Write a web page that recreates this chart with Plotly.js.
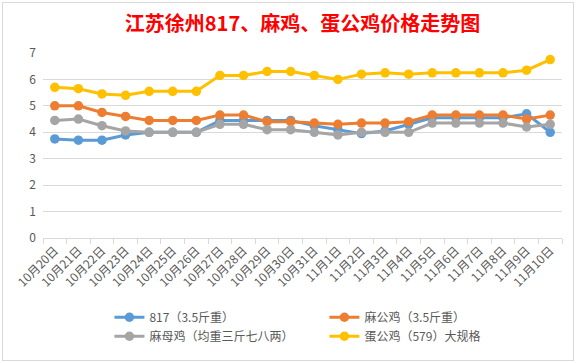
<!DOCTYPE html>
<html>
<head>
<meta charset="utf-8">
<script src="https://cdn.plot.ly/plotly-3.0.1.min.js"></script>
<style>
  html, body { margin: 0; padding: 0; background: #ffffff; }
  #wrap { position: relative; width: 580px; height: 363px; overflow: hidden; background: #ffffff; }
  #frame { position: absolute; left: 2px; top: 2px; width: 570px; height: 357px; border: 1px solid #d9d9d9; box-sizing: content-box; }
  #chart { position: absolute; left: 0; top: 0; width: 580px; height: 363px; }
</style>
</head>
<body>
<div id="wrap">
  <div id="frame"></div>
  <div id="chart"></div>
</div>
<script>
const categories = ["10月20日","10月21日","10月22日","10月23日","10月24日","10月25日","10月26日","10月27日","10月28日","10月29日","10月30日","10月31日","11月1日","11月2日","11月3日","11月4日","11月5日","11月6日","11月7日","11月8日","11月9日","11月10日"];
const seriesNames = ["817（3.5斤重）","麻公鸡（3.5斤重）","麻母鸡（均重三斤七八两）","蛋公鸡（579）大规格"];
const s817   = [3.75,3.7,3.7,3.9,4.0,4.0,4.0,4.45,4.45,4.45,4.45,4.25,4.1,3.95,4.05,4.3,4.55,4.55,4.55,4.55,4.7,4.0];
const maGong = [5.0,5.0,4.75,4.6,4.45,4.45,4.45,4.65,4.65,4.4,4.4,4.35,4.3,4.35,4.35,4.4,4.65,4.65,4.65,4.65,4.5,4.65];
const maMu   = [4.45,4.5,4.25,4.05,4.0,4.0,4.0,4.3,4.3,4.1,4.1,4.0,3.9,4.0,4.0,4.0,4.35,4.35,4.35,4.35,4.2,4.3];
const danGong= [5.7,5.65,5.45,5.4,5.55,5.55,5.55,6.15,6.15,6.3,6.3,6.15,6.0,6.2,6.25,6.2,6.25,6.25,6.25,6.25,6.35,6.75];
const colors = ["#5B9BD5","#ED7D31","#A5A5A5","#FFC000"];

const seriesData = [s817, maGong, maMu, danGong];
const font = "'Noto Sans CJK SC', 'Microsoft YaHei', sans-serif";
const traces = seriesData.map((ys, i) => ({
  type: "scatter",
  mode: "lines+markers",
  name: seriesNames[i],
  x: categories,
  y: ys,
  line: { color: colors[i], width: 3 },
  marker: { color: colors[i], size: 9.5, symbol: "circle" }
}));

const layout = {
  width: 580, height: 363,
  paper_bgcolor: "rgba(0,0,0,0)",
  plot_bgcolor: "rgba(0,0,0,0)",
  margin: { l: 43, r: 18, t: 53, b: 116 },
  title: {
    text: "<b>江苏徐州817、麻鸡、蛋公鸡价格走势图</b>",
    font: { family: font, size: 20, color: "#FF0000" },
    x: 0.5, xanchor: "center", xref: "paper",
    y: 0.935, yanchor: "middle", yref: "container"
  },
  showlegend: true,
  legend: {
    orientation: "h",
    x: 0.128, xanchor: "left",
    y: -0.35, yanchor: "top",
    entrywidth: 170, entrywidthmode: "pixels",
    itemwidth: 30,
    font: { family: font, size: 12, color: "#595959" },
    tracegroupgap: 0
  },
  xaxis: {
    type: "category",
    range: [-0.5, 21.5],
    showgrid: false,
    showline: true, linecolor: "#d9d9d9", linewidth: 1,
    ticks: "outside", ticklen: 5, tickcolor: "#d9d9d9",
    tickson: "boundaries",
    tickangle: -45,
    tickfont: { family: font, size: 12, color: "#595959" },
    zeroline: false,
    fixedrange: true
  },
  yaxis: {
    range: [0, 7], dtick: 1, tick0: 0,
    showgrid: true, gridcolor: "#d9d9d9", gridwidth: 1,
    zeroline: false, showline: false,
    ticks: "", ticklen: 0,
    ticklabelstandoff: 6,
    tickfont: { family: font, size: 12, color: "#595959" },
    fixedrange: true
  }
};

Plotly.newPlot("chart", traces, layout, { displayModeBar: false, staticPlot: true });
</script>
</body>
</html>
